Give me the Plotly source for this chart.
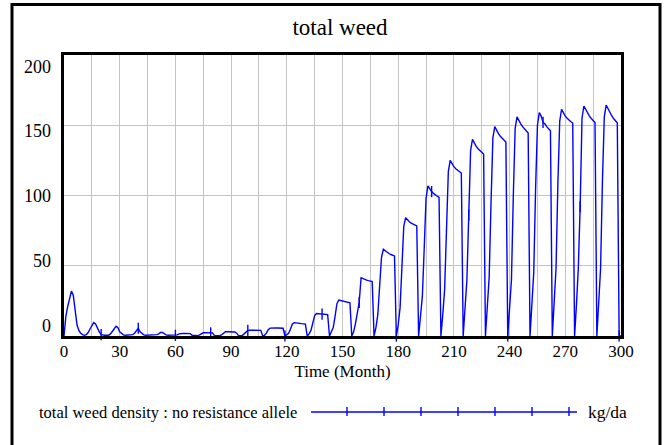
import plotly.graph_objects as go

# ---------------- data ----------------
MONTHS = list(range(0, 301))

WEED_DENSITY = [
    # 0-11
    0, 14, 21, 27, 32, 29, 17, 8, 4, 2, 1, 0.5,
    # 12-23
    1, 2.5, 5, 7.5, 9.5, 8.5, 5, 3, 1, 0.5, 0.5, 0.5,
    # 24-35
    0.5, 1.5, 3, 5, 7, 6, 3, 1.5, 0.8, 0.5, 0.5, 0.5,
    # 36-47
    0.5, 1, 2, 3.5, 5.5, 3, 1.5, 0.8, 0.5, 0.5, 0.5, 0.5,
    # 48-59
    0.5, 0.5, 1, 1.5, 2.5, 2.5, 1.5, 0.8, 0.5, 0.5, 0.5, 0.5,
    # 60-71
    0.5, 0.8, 1.5, 1.8, 1.8, 1.8, 1.8, 1.7, 1.7, 0.5, 0.3, 0.3,
    # 72-83
    0.3, 0.8, 1.5, 2.3, 2.3, 2.3, 2.3, 2.2, 2.2, 0.3, 0.3, 0.3,
    # 84-95
    0.3, 1, 2, 3, 3, 3, 3, 2.9, 2.9, 2, 0.3, 0.3,
    # 96-107
    0.3, 1.5, 3, 4, 4.2, 4.2, 4.2, 4.1, 4.1, 4.0, 4.0, 0,
    # 108-119
    0.5, 2, 4.5, 5.6, 5.8, 5.8, 5.7, 5.7, 5.6, 5.6, 5.5, 0,
    # 120-131
    0.8, 2, 5, 8.5, 9.5, 9.5, 9.3, 9.0, 8.8, 8.6, 8.5, 0,
    # 132-143
    1.5, 4, 9, 14.5, 16, 15.8, 15.6, 15.5, 15.4, 15.3, 15.2, 0,
    # 144-155
    2.5, 6, 14, 23, 25.6, 25.2, 24.8, 24.5, 24.2, 23.9, 23.7, 0,
    # 156-167
    3, 9, 16, 24, 41.5, 40.8, 40.2, 39.8, 39.4, 39, 38.7, 0,
    # 168-179
    6, 15, 35, 56, 61.7, 60.5, 59.5, 58.7, 58, 57.5, 57, 0,
    # 180-191
    8, 20, 48, 78, 84.2, 82.5, 81.3, 80.3, 79.5, 78.9, 78.3, 0,
    # 192-203
    12, 28, 62, 98, 106.8, 104.5, 102.8, 101.5, 100.3, 99.5, 98.7, 0,
    # 204-215
    15, 33, 75, 117, 125, 122.5, 120.5, 119, 117.8, 116.8, 116, 0,
    # 216-227
    18, 40, 86, 132, 140, 137, 135, 133.3, 131.8, 130.5, 129.5, 0,
    # 228-239
    19, 42, 95, 141, 149, 146, 144, 142.2, 140.6, 139.2, 138, 0,
    # 240-251
    21, 40, 100, 148, 156, 153, 151, 149, 147.3, 145.8, 144.5, 0,
    # 252-263
    21, 45, 105, 150, 159, 156.5, 152, 151, 149, 147.5, 146, 0,
    # 264-275
    22, 48, 108, 153, 161.3, 158.5, 156.5, 155, 153.6, 152.5, 151.6, 0,
    # 276-287
    22, 48, 92, 155, 163.7, 161, 158.5, 156.5, 154.8, 153.3, 152, 0,
    # 288-299
    22, 48, 110, 156, 164.4, 161.5, 159, 156.8, 154.8, 153.2, 151.8, 0,
    # 300
    0,
]

MARKER_MONTHS = [20, 40, 60, 79, 99, 119, 139, 159, 179, 198, 218, 239, 258, 278, 299]

X_TICKS = [0, 15, 30, 45, 60, 75, 90, 105, 120, 135, 150, 165, 180, 195,
           210, 225, 240, 255, 270, 285, 300]
X_TICK_LABELS = ["0", "", "30", "", "60", "", "90", "", "120", "", "150", "",
                 "180", "", "210", "", "240", "", "270", "", "300"]
Y_GRID = [0, 50, 100, 150, 200]
Y_LABEL_POS = [7.5, 53.5, 100, 146, 192]
Y_LABELS = ["0", "50", "100", "150", "200"]

TITLE = "total weed"
X_TITLE = "Time (Month)"
SERIES_NAME = "total weed density : no resistance allele"
UNITS = "kg/da"

# ---------------- layout helpers ----------------
W, H = 669, 445
L, R, T, B = 64, 621, 55, 336
FONT = "Liberation Serif"
BLUE = "#0000ff"


def px_x(px):
    return (px - L) / (R - L)


def px_y(py):
    return (B - py) / (B - T)


marker_y = [WEED_DENSITY[m] for m in MARKER_MONTHS]

fig = go.Figure()
fig.add_trace(go.Scatter(
    x=MONTHS, y=WEED_DENSITY, mode="lines",
    line=dict(color=BLUE, width=1.4),
    name=SERIES_NAME, showlegend=False, hoverinfo="x+y",
))
fig.add_trace(go.Scatter(
    x=MARKER_MONTHS, y=marker_y, mode="markers", yaxis="y2",
    marker=dict(symbol="line-ns", size=8, color=BLUE,
                line=dict(color=BLUE, width=1.4)),
    cliponaxis=False, showlegend=False, hoverinfo="skip",
))

shapes = [
    # outer frame
    dict(type="rect", xref="paper", yref="paper",
         x0=px_x(12), x1=px_x(660), y0=px_y(449), y1=px_y(4.5),
         line=dict(color="black", width=3), fillcolor="rgba(0,0,0,0)"),
    # legend line
    dict(type="line", xref="paper", yref="paper",
         x0=px_x(311), x1=px_x(577), y0=px_y(412), y1=px_y(412),
         line=dict(color=BLUE, width=1.4)),
]
for cx in [347, 384, 421, 458, 495, 532, 569]:
    shapes.append(dict(type="line", xref="paper", yref="paper",
                       x0=px_x(cx), x1=px_x(cx), y0=px_y(407), y1=px_y(416),
                       line=dict(color=BLUE, width=1.4)))

annotations = [
    dict(text=SERIES_NAME, xref="paper", yref="paper", x=px_x(37), y=px_y(412),
         xanchor="left", yanchor="middle", showarrow=False,
         font=dict(family=FONT, size=16.5, color="black")),
    dict(text=UNITS, xref="paper", yref="paper", x=px_x(586), y=px_y(412),
         xanchor="left", yanchor="middle", showarrow=False,
         font=dict(family=FONT, size=17.5, color="black")),
]

fig.update_layout(
    width=W, height=H,
    margin=dict(l=L, r=W - R, t=T, b=H - B, pad=0),
    paper_bgcolor="white", plot_bgcolor="white",
    title=dict(text=TITLE, x=340 / W, xanchor="center", xref="container",
               y=1 - 27 / H, yanchor="middle", yref="container",
               font=dict(family=FONT, size=23, color="black")),
    xaxis=dict(range=[0, 300], tickvals=X_TICKS, ticktext=X_TICK_LABELS,
               showgrid=True, gridcolor="#c4c4c4", gridwidth=1,
               showline=True, linecolor="black", linewidth=3, mirror=True,
               ticks="", zeroline=False, ticklabelstandoff=-2,
               tickfont=dict(family=FONT, size=17, color="black"),
               title=dict(text=X_TITLE, standoff=5,
                          font=dict(family=FONT, size=17, color="black"))),
    yaxis=dict(range=[0, 200], tickvals=Y_GRID, showticklabels=False,
               showgrid=True, gridcolor="#c4c4c4", gridwidth=1,
               showline=True, linecolor="black", linewidth=3, mirror=True,
               ticks="", zeroline=False),
    yaxis2=dict(range=[0, 200], overlaying="y", side="left",
                tickvals=Y_LABEL_POS, ticktext=Y_LABELS,
                showgrid=False, showline=False, zeroline=False, ticks="",
                ticklabelstandoff=12,
                tickfont=dict(family=FONT, size=18, color="black")),
    shapes=shapes, annotations=annotations,
    showlegend=False,
)

fig.write_html(
    "out.html",
    config={"displayModeBar": False},
    post_script="document.body.style.margin='0';document.body.style.padding='0';",
)
